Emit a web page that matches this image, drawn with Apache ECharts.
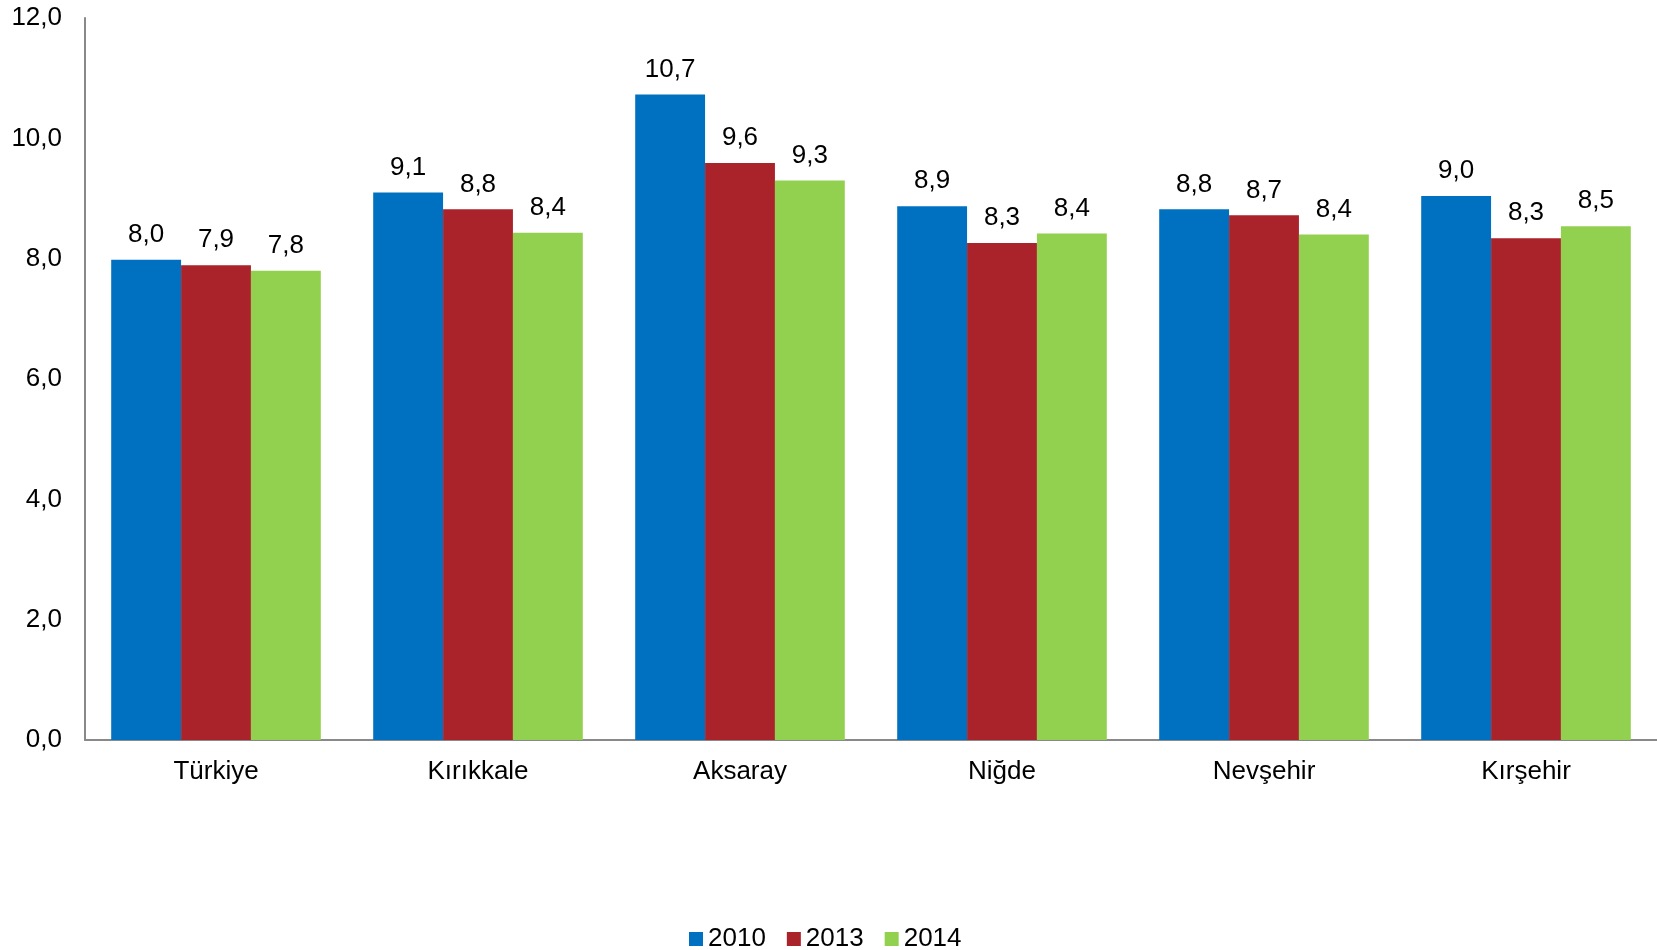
<!DOCTYPE html>
<html>
<head>
<meta charset="utf-8">
<script src="https://cdn.jsdelivr.net/npm/echarts@6/dist/echarts.min.js"></script>
<style>
html,body{margin:0;padding:0;background:#fff;}
#chart{width:1657px;height:950px;}
</style>
</head>
<body>
<div id="chart"></div>
<script>
const categories = ['Türkiye', 'Kırıkkale', 'Aksaray', 'Niğde', 'Nevşehir', 'Kırşehir'];
const seriesNames = ['2010', '2013', '2014'];
const values2010 = [7.98, 9.10, 10.73, 8.87, 8.82, 9.04];
const values2013 = [7.89, 8.82, 9.59, 8.26, 8.72, 8.34];
const values2014 = [7.80, 8.43, 9.30, 8.42, 8.40, 8.54];
const colors = ['#0070C0', '#AA222A', '#92D050'];
const yTicks = { min: 0, max: 12, interval: 2 };

const fmt = v => Number(v).toFixed(1).replace('.', ',');
const font = 'Liberation Sans, Arial, sans-serif';
const allValues = [values2010, values2013, values2014];

const chart = echarts.init(document.getElementById('chart'), null, { renderer: 'canvas' });
chart.setOption({
  animation: false,
  backgroundColor: '#ffffff',
  color: colors,
  grid: { left: 85, top: 18, width: 1578, height: 722, containLabel: false },
  legend: {
    data: seriesNames,
    top: 921,
    left: 684,
    itemWidth: 14,
    itemHeight: 14,
    itemGap: 21,
    icon: 'rect',
    textStyle: { fontFamily: font, fontSize: 26, color: '#000' }
  },
  xAxis: {
    type: 'category',
    data: categories,
    axisLine: { lineStyle: { color: '#898989', width: 2 } },
    axisTick: { show: false },
    axisLabel: { fontFamily: font, fontSize: 26, color: '#000', margin: 19 }
  },
  yAxis: {
    type: 'value',
    min: yTicks.min,
    max: yTicks.max,
    interval: yTicks.interval,
    axisLine: { show: true, lineStyle: { color: '#898989', width: 2 } },
    axisTick: { show: false },
    splitLine: { show: false },
    axisLabel: { fontFamily: font, fontSize: 26, color: '#000', margin: 23, formatter: fmt }
  },
  series: seriesNames.map((name, i) => ({
    name: name,
    type: 'bar',
    data: allValues[i],
    barGap: '0%',
    barCategoryGap: '20%',
    itemStyle: { color: colors[i] },
    label: {
      show: true,
      position: 'top',
      distance: 12,
      fontFamily: font,
      fontSize: 26,
      color: '#000',
      formatter: p => fmt(p.value)
    }
  }))
});
</script>
</body>
</html>
